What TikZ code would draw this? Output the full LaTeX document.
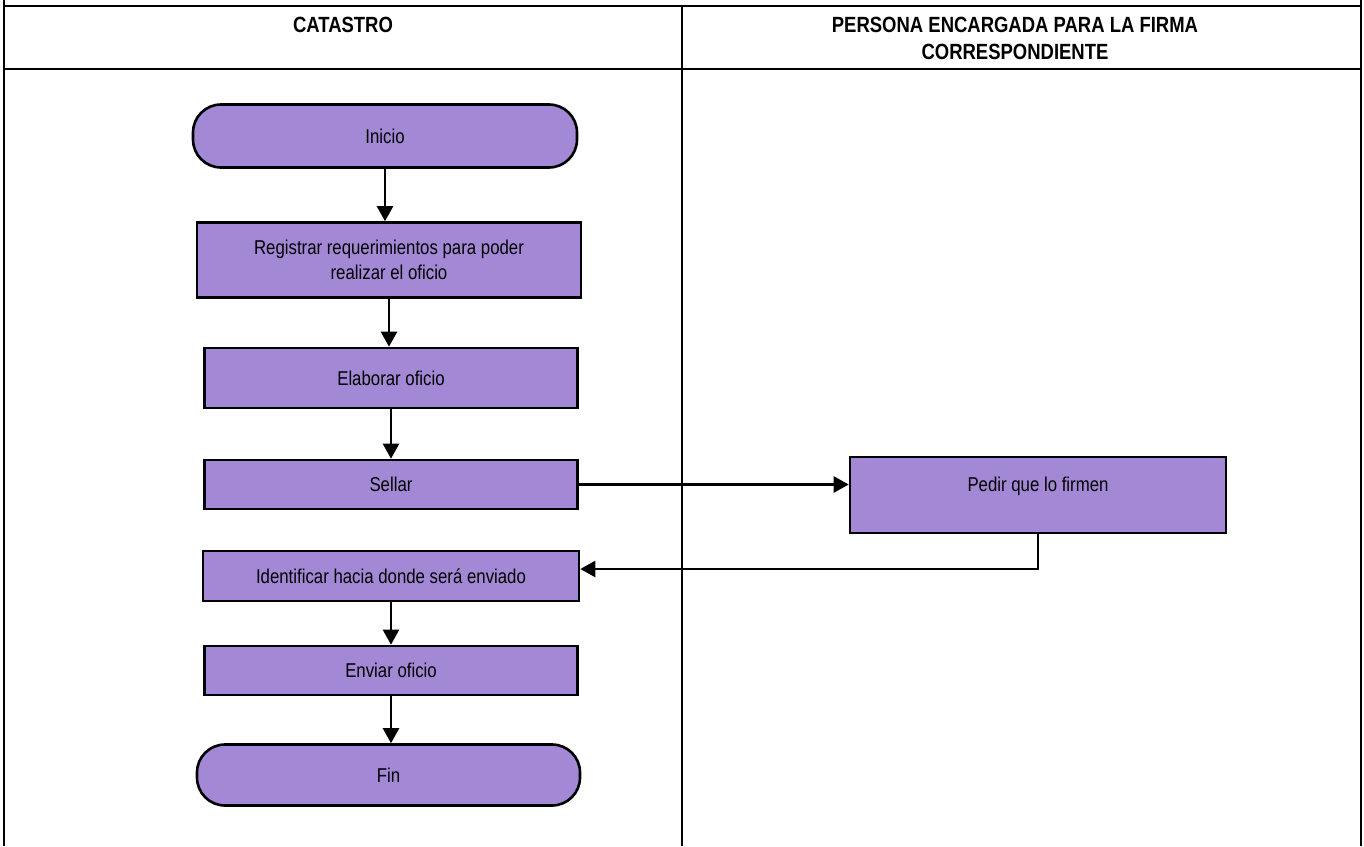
\documentclass[tikz,border=0pt]{standalone}
\usepackage{fontspec}
\setmainfont{Liberation Sans}[FakeStretch=0.84]
\usetikzlibrary{positioning,arrows.meta}
\definecolor{lila}{RGB}{163,136,214}
\tikzset{
  rule/.style     = {draw=black, line width=1.1pt},
  hdr/.style      = {font=\fontsize{11}{13.5}\selectfont\bfseries, align=center, inner sep=0pt},
  proc/.style     = {draw=black, fill=lila, line width=1.3pt, align=center, inner sep=2pt,
                     font=\fontsize{10}{12.5}\selectfont},
  term/.style     = {proc, rounded corners=14pt},
  flow/.style     = {-{Triangle[length=7.5pt,width=8pt]}, draw=black, line width=1.2pt},
}

\begin{document}
\begin{tikzpicture}[x=0.5pt,y=-0.5pt]
  \useasboundingbox (0,0) rectangle (1364,846);

  % swimlane table
  \draw[rule] (4,0) -- (4,846);
  \draw[rule] (1361,0) -- (1361,846);
  \draw[rule] (4,6) -- (1361,6);
  \draw[rule] (4,69) -- (1361,69);
  \draw[rule] (682,6) -- (682,846);
  \node[hdr] (laneA) at (343,25) {CATASTRO};
  \node[hdr] (laneB) at (1015,38.5) {PERSONA ENCARGADA PARA LA FIRMA\\CORRESPONDIENTE};

  % left lane
  \node[term, minimum width=192pt, minimum height=31.5pt] (inicio) at (385,136) {Inicio};
  \node[proc, minimum width=192pt, minimum height=37.5pt] (registrar) at (389,260)
    {Registrar requerimientos para poder\\realizar el oficio};
  \node[proc, minimum width=186.5pt, minimum height=30pt] (elaborar) at (391,378) {Elaborar oficio};
  \node[proc, minimum width=186.5pt, minimum height=24.5pt] (sellar) at (391,484.5) {Sellar};
  \node[proc, minimum width=188pt, minimum height=25pt] (identificar) at (391,576)
    {Identificar hacia donde será enviado};
  \node[proc, minimum width=186.5pt, minimum height=24.5pt] (enviar) at (391,670.5) {Enviar oficio};
  \node[term, minimum width=191.5pt, minimum height=30.5pt] (fin) at (388.5,775) {Fin};

  % right lane
  \node[proc, minimum width=188pt, minimum height=38pt, text height=7pt, text depth=11pt]
    (pedir) at (1038,495) {Pedir que lo firmen};

  \foreach \a/\b in {inicio/registrar, registrar/elaborar, elaborar/sellar,
                     identificar/enviar, enviar/fin} {
    \draw[flow] (\a.south) -- (\a.south |- \b.north);
  }
  \draw[flow] (sellar.east) -- (sellar.east -| pedir.west);
  \draw[flow] (pedir.south) |- ([yshift=3.5pt]identificar.east);
\end{tikzpicture}
\end{document}
